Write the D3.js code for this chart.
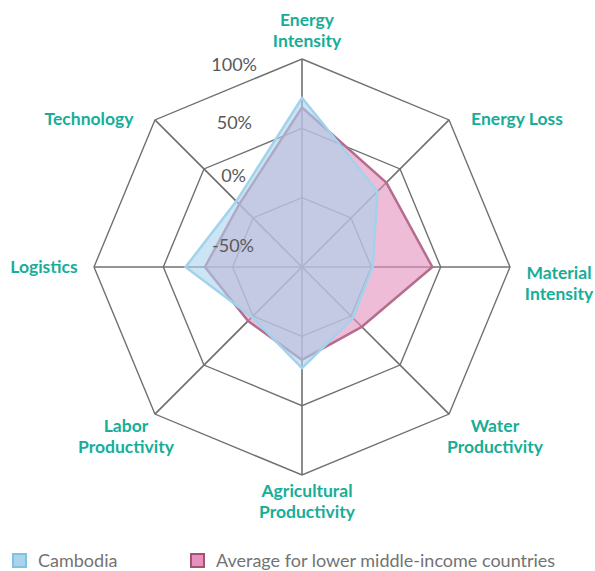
<!DOCTYPE html>
<html><head><meta charset="utf-8">
<script src="https://cdn.jsdelivr.net/npm/d3@7/dist/d3.min.js"></script>
<style>
body{margin:0;background:#fff;}
svg{display:block;font-family:Lato,"Open Sans",sans-serif;}
</style></head>
<body>
<svg id="chart" width="595" height="571"></svg>
<script>
const categories = [
  ["Energy","Intensity"],
  ["Energy Loss"],
  ["Material","Intensity"],
  ["Water","Productivity"],
  ["Agricultural","Productivity"],
  ["Labor","Productivity"],
  ["Logistics"],
  ["Technology"]
];
const cambodia = [72, 27, 1, 2, 23, 1, 34, 17];
const lowerMiddle = [65, 36, 44, 11, 17, 5, 20, 14];
const tickValues = [-50, 0, 50, 100];
const tickLabels = ["-50%", "0%", "50%", "100%"];
const seriesNames = ["Cambodia", "Average for lower middle-income countries"];

const svg = d3.select("#chart");
const cx = 302, cy = 267, R = 208;
const r = d3.scaleLinear().domain([-50, 100]).range([0, R]);
const n = categories.length;
const ang = d3.scaleLinear().domain([0, n]).range([0, 2 * Math.PI]);
const pt = (i, v) => [cx + r(v) * Math.sin(ang(i)), cy - r(v) * Math.cos(ang(i))];

const g = svg.append("g");
tickValues.filter(v => v > -50).forEach(v => {
  g.append("polygon")
    .attr("points", d3.range(n).map(i => pt(i, v).join(",")).join(" "))
    .attr("fill", "none").attr("stroke", "#707070").attr("stroke-width", 1.4);
});
d3.range(n).forEach(i => {
  const [x, y] = pt(i, 100);
  g.append("line").attr("x1", cx).attr("y1", cy).attr("x2", x).attr("y2", y)
    .attr("stroke", "#707070").attr("stroke-width", 1.6);
});

const line = d3.lineRadial().angle((d, i) => ang(i)).radius(d => r(d)).curve(d3.curveLinearClosed);
const pg = svg.append("g").attr("transform", `translate(${cx},${cy})`);
pg.append("path").datum(lowerMiddle).attr("d", line)
  .attr("fill", "#e58fbd").attr("fill-opacity", 0.6)
  .attr("stroke", "#b56d8e").attr("stroke-width", 2.5).attr("stroke-linejoin", "round");
pg.append("path").datum(cambodia).attr("d", line)
  .attr("fill", "#a9d4ec").attr("fill-opacity", 0.6)
  .attr("stroke", "#a3d2ec").attr("stroke-width", 2.5).attr("stroke-linejoin", "round");

const tickDy = {"-50": -21, "0": -22, "50": -6, "100": 6};
const tickX = {"-50": 254, "0": 246, "50": 252, "100": 257};
tickValues.forEach((v, k) => {
  svg.append("text").attr("x", tickX[v]).attr("y", cy - r(v) + tickDy[v])
    .attr("dy", "0.35em").attr("text-anchor", "end")
    .attr("font-size", 18).attr("fill", "#595959").text(tickLabels[k]);
});

const labelPos = [
  {x: 307, y: 20},
  {x: 517, y: 119},
  {x: 559, y: 273},
  {x: 495, y: 426},
  {x: 307, y: 491},
  {x: 126, y: 426},
  {x: 44, y: 267},
  {x: 89, y: 119}
];
categories.forEach((c, i) => {
  const t = svg.append("text").attr("text-anchor", "middle")
    .attr("font-size", 17.5).attr("font-weight", 700).attr("fill", "#17ad98");
  c.forEach((s, j) => {
    t.append("tspan").attr("x", labelPos[i].x).attr("y", labelPos[i].y + j * 21)
      .attr("dy", "0.35em").text(s);
  });
});

const legend = [
  {x: 12, fill: "#a9d4ec", stroke: "#7fc2e4"},
  {x: 190, fill: "#e88fbe", stroke: "#a2536f"}
];
legend.forEach((l, k) => {
  svg.append("rect").attr("x", l.x + 1).attr("y", 554).attr("width", 13).attr("height", 13)
    .attr("fill", l.fill).attr("stroke", l.stroke).attr("stroke-width", 2);
  svg.append("text").attr("x", l.x + 26).attr("y", 561).attr("dy", "0.35em")
    .attr("font-size", 18).attr("fill", "#737373").text(seriesNames[k]);
});
</script>
</body></html>
